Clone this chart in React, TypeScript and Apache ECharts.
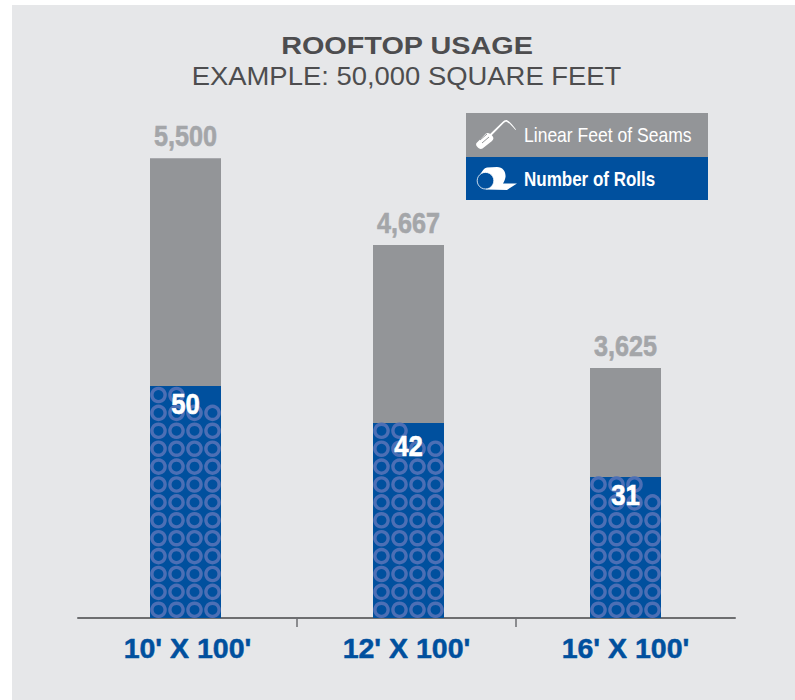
import React, { useEffect, useRef } from "react";
import * as echarts from "echarts";

const categories = ["10' X 100'", "12' X 100'", "16' X 100'"];
const seamLabels = ["5,500", "4,667", "3,625"];
const rollCounts = [50, 42, 31];
// segment heights, in rolls-axis units
const rollHeights = [50, 42, 30.4];
const seamHeights = [49.1, 38.4, 23.5];
const legendItems = ["Linear Feet of Seams", "Number of Rolls"];
const titleText = "ROOFTOP USAGE";
const subtitleText = "EXAMPLE: 50,000 SQUARE FEET";

const BG = "#e6e7e9";
const GRAY = "#939598";
const LABEL_GRAY = "#a4a6a9";
const BLUE = "#00509e";
const RING = "#4c6fb5";
const DARK = "#4d4d4f";
const SANS = "'Liberation Sans', sans-serif";
const barNudge = [-2, 2, 0];
const rollLabelDrop = [18, 23, 18];
const BAR_W = 71;
const NARROW_SCALE = 0.84;

echarts.graphic.registerShape(
  "rollIcon",
  echarts.graphic.extendPath(
    "M10,60 C12,56 14,53 17,52.5 L27,52 C33,52 36,57 35.5,62 C35,65 34,67 33,68.5 L47,68.5 L37,75 L16,74.5 Z",
    {}
  )
);
echarts.graphic.registerShape(
  "handleIcon",
  echarts.graphic.extendPath(
    "M6.5,28 L16,18.5 C18,17 21,19 22.5,21 C24,23 23.5,24.5 22,26 L12.5,33.5 C10.5,34.5 8.5,33.5 7,31.5 C6,30.5 5.8,29 6.5,28 Z",
    {}
  )
);
echarts.graphic.registerShape(
  "shaftIcon",
  echarts.graphic.extendPath(
    "M19,20 L32.5,7 C34,5.5 36,4.5 37.5,5.5 C40,7 43,10.5 46,14.5 L45.5,15 C42.5,11.5 39.5,8.2 37,7 C36,6.5 35,7 33.5,8.3 L20.5,21.5 Z",
    {}
  )
);

function renderRolls(params: any, api: any) {
  const i = api.value(0);
  const base = api.coord([i, 0]);
  const top = api.coord([i, api.value(1)]);
  const cx = base[0] + barNudge[i];
  const left = cx - BAR_W / 2;
  const children: any[] = [
    { type: "rect", shape: { x: left, y: top[1], width: BAR_W, height: base[1] - top[1] }, style: { fill: BLUE } },
  ];
  for (let n = 0; n < rollCounts[i]; n++) {
    const col = n % 4;
    const row = Math.floor(n / 4);
    children.push({
      type: "ring",
      shape: { cx: left + 8.5 + col * 18, cy: base[1] - 8.2 - row * 17.9, r: 8.3, r0: 4.9 },
      style: { fill: RING },
    });
  }
  children.push({
    type: "text",
    x: cx,
    y: top[1] + rollLabelDrop[i],
    scaleX: 0.86,
    style: {
      text: String(rollCounts[i]),
      textAlign: "center",
      textVerticalAlign: "middle",
      fontFamily: SANS,
      fontWeight: "bold",
      fontSize: 30,
      fill: "#ffffff",
      stroke: "#ffffff",
      lineWidth: 0.6,
    },
  });
  return { type: "group", children };
}

function renderSeams(params: any, api: any) {
  const i = api.value(0);
  const bottom = api.coord([i, api.value(1)]);
  const top = api.coord([i, api.value(2)]);
  const cx = bottom[0] + barNudge[i];
  return {
    type: "group",
    children: [
      { type: "rect", shape: { x: cx - BAR_W / 2, y: top[1], width: BAR_W, height: bottom[1] - top[1] }, style: { fill: GRAY } },
      {
        type: "text",
        x: cx,
        y: top[1] - 22.5,
        scaleX: NARROW_SCALE,
        style: {
          text: seamLabels[i],
          textAlign: "center",
          textVerticalAlign: "middle",
          fontFamily: SANS,
          fontWeight: "bold",
          fontSize: 30,
          fill: LABEL_GRAY,
          stroke: LABEL_GRAY,
          lineWidth: 0.6,
        },
      },
    ],
  };
}

export default function App() {
  const ref = useRef<HTMLDivElement>(null);
  useEffect(() => {
    const chart = echarts.init(ref.current!, undefined, { renderer: "svg" });
    chart.setOption({
      animation: false,
      backgroundColor: "#ffffff",
      grid: { left: 78, top: 98.32, width: 657, height: 519.68, containLabel: false },
      xAxis: [
        {
          type: "category",
          data: categories,
          axisLine: { lineStyle: { color: "#6d6e70", width: 2 } },
          axisTick: { show: false },
          axisLabel: {
            interval: 0,
            margin: 15,
            fontFamily: SANS,
            fontWeight: "bold",
            fontSize: 28.5,
            color: BLUE,
            textBorderColor: BLUE,
            textBorderWidth: 0.5,
          },
        },
        {
          type: "value",
          position: "bottom",
          min: 0,
          max: 3,
          interval: 1,
          axisLine: { show: false },
          axisLabel: { show: false },
          splitLine: { show: false },
          axisTick: { show: true, inside: false, length: 9, customValues: [1, 2], lineStyle: { color: "#6d6e70", width: 1.5 } },
        },
      ],
      yAxis: { type: "value", min: 0, max: 112, show: false },
      graphic: {
        elements: [
          { type: "rect", z: -10, silent: true, shape: { x: 12, y: 5, width: 783, height: 695 }, style: { fill: BG } },
          {
            type: "text",
            x: 407,
            y: 46,
            scaleX: 1.2,
            style: { text: titleText, textAlign: "center", textVerticalAlign: "middle", fontFamily: SANS, fontWeight: "bold", fontSize: 24, fill: DARK },
          },
          {
            type: "text",
            x: 406.5,
            y: 76,
            scaleX: 1.097,
            style: { text: subtitleText, textAlign: "center", textVerticalAlign: "middle", fontFamily: SANS, fontSize: 25, fill: DARK },
          },
          {
            type: "group",
            x: 470,
            y: 115,
            children: [
              { type: "rect", shape: { x: -4, y: -2, width: 242, height: 44 }, style: { fill: GRAY } },
              { type: "rect", shape: { x: -4, y: 42, width: 242, height: 43 }, style: { fill: BLUE } },
              { type: "handleIcon", style: { fill: "#ffffff" } },
              { type: "shaftIcon", style: { fill: "#ffffff" } },
              { type: "line", shape: { x1: 10, y1: 25, x2: 17, y2: 19 }, style: { stroke: GRAY, lineWidth: 1 } },
              { type: "line", shape: { x1: 12, y1: 28, x2: 19, y2: 22 }, style: { stroke: GRAY, lineWidth: 1 } },
              { type: "rollIcon", style: { fill: "#ffffff" } },
              { type: "circle", shape: { cx: 15.5, cy: 65.7, r: 8.3 }, style: { fill: BLUE, stroke: "#ffffff", lineWidth: 0.8 } },
              {
                type: "text",
                x: 54,
                y: 19.5,
                scaleX: 0.835,
                style: { text: legendItems[0], textVerticalAlign: "middle", fontFamily: SANS, fontSize: 21, fill: "#ffffff" },
              },
              {
                type: "text",
                x: 54,
                y: 63.5,
                scaleX: 0.81,
                style: { text: legendItems[1], textVerticalAlign: "middle", fontFamily: SANS, fontWeight: "bold", fontSize: 21, fill: "#ffffff" },
              },
            ],
          },
        ],
      },
      series: [
        {
          name: legendItems[0],
          type: "custom",
          renderItem: renderSeams,
          clip: false,
          encode: { x: 0, y: 2 },
          data: categories.map((_, i) => [i, rollHeights[i], rollHeights[i] + seamHeights[i]]),
        },
        {
          name: legendItems[1],
          type: "custom",
          renderItem: renderRolls,
          clip: false,
          encode: { x: 0, y: 1 },
          data: categories.map((_, i) => [i, rollHeights[i]]),
        },
      ],
    });
    return () => chart.dispose();
  }, []);
  return <div ref={ref} style={{ position: "absolute", left: 0, top: 0, width: 795, height: 700 }} />;
}
